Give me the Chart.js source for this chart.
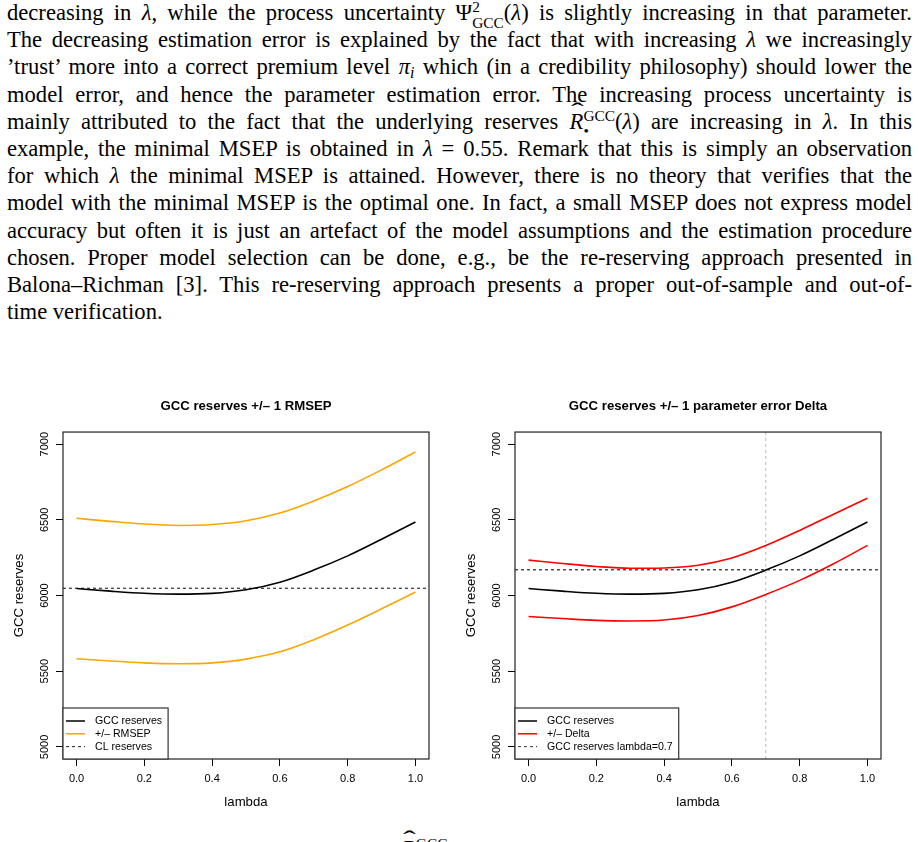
<!DOCTYPE html>
<html>
<head>
<meta charset="utf-8">
<script src="https://cdn.jsdelivr.net/npm/chart.js@4/dist/chart.umd.min.js"></script>
<style>
html,body{margin:0;padding:0;background:#fff;}
body{width:919px;height:842px;overflow:hidden;position:relative;}
.txt{position:absolute;left:7px;top:-1px;width:905px;font-family:"Liberation Serif",serif;font-size:22.6px;color:#000;}
.ln{height:27.2px;line-height:27.2px;text-align:justify;text-align-last:justify;}
.ln.last{text-align:left;text-align-last:left;}
.hat{position:relative;display:inline-block;}
.hat::after{content:"\02C6";position:absolute;left:50%;top:-0.42em;transform:translateX(-45%) scaleX(1.7);font-style:normal;}
.ss{display:inline-block;font-size:0.68em;line-height:1;vertical-align:-0.5em;text-align:left;}
.ss span{display:block;}
.sb{font-size:0.7em;vertical-align:-0.25em;line-height:0;font-style:italic;}
.chartbox{position:absolute;top:390px;width:459px;height:430px;}
.tail{position:absolute;left:402px;top:835px;font-family:"Liberation Serif",serif;font-size:22.6px;line-height:27.2px;white-space:nowrap;}
</style>
</head>
<body>
<div class="txt">
<div class="ln">decreasing in <i>λ</i>, while the process uncertainty <span class="hat">Ψ</span><span class="ss"><span>2</span><span>GCC</span></span>(<i>λ</i>) is slightly increasing in that parameter.</div>
<div class="ln">The decreasing estimation error is explained by the fact that with increasing <i>λ</i> we increasingly</div>
<div class="ln">’trust’ more into a correct premium level <i>π</i><span class="sb">i</span> which (in a credibility philosophy) should lower the</div>
<div class="ln">model error, and hence the parameter estimation error. The increasing process uncertainty is</div>
<div class="ln">mainly attributed to the fact that the underlying reserves <span class="hat"><i>R</i></span><span class="ss"><span>GCC</span><span>&#8226;</span></span>(<i>λ</i>) are increasing in <i>λ</i>. In this</div>
<div class="ln">example, the minimal MSEP is obtained in <i>λ</i> = 0.55. Remark that this is simply an observation</div>
<div class="ln">for which <i>λ</i> the minimal MSEP is attained. However, there is no theory that verifies that the</div>
<div class="ln">model with the minimal MSEP is the optimal one. In fact, a small MSEP does not express model</div>
<div class="ln">accuracy but often it is just an artefact of the model assumptions and the estimation procedure</div>
<div class="ln">chosen. Proper model selection can be done, e.g., be the re-reserving approach presented in</div>
<div class="ln">Balona–Richman [3]. This re-reserving approach presents a proper out-of-sample and out-of-</div>
<div class="ln last">time verification.</div>
</div>

<div class="chartbox" style="left:0px"><canvas id="c1" width="459" height="430"></canvas></div>
<div class="chartbox" style="left:452px"><canvas id="c2" width="459" height="430"></canvas></div>

<div class="tail"><span class="hat"><i>R</i></span><span class="ss" style="vertical-align:0.45em"><span>GCC</span></span></div>

<script>
// ---------- data ----------
const lambda        = [0.0, 0.1, 0.2, 0.3, 0.4, 0.5, 0.6, 0.7, 0.8, 0.9, 1.0];
const gccReserves   = [6046, 6029, 6015, 6009, 6014, 6038, 6088, 6168, 6262, 6372, 6486];
const rmsepUpper    = [6510, 6490, 6472, 6463, 6469, 6494, 6545, 6625, 6720, 6830, 6948];
const rmsepLower    = [5582, 5567, 5555, 5549, 5555, 5580, 5628, 5708, 5805, 5912, 6023];
const deltaUpper    = [6234, 6212, 6192, 6180, 6182, 6200, 6248, 6330, 6430, 6537, 6643];
const deltaLower    = [5861, 5848, 5836, 5832, 5838, 5868, 5925, 6007, 6100, 6210, 6331];
const clReserves    = 6048;
const gccAtLambda07 = 6170;
const lambdaMark    = 0.7;
const xTicks        = [0.0, 0.2, 0.4, 0.6, 0.8, 1.0];
const yTicks        = [5000, 5500, 6000, 6500, 7000];
const titles        = ['GCC reserves +/\u2013 1 RMSEP', 'GCC reserves +/\u2013 1 parameter error Delta'];
const legendLeft    = ['GCC reserves', '+/\u2013 RMSEP', 'CL reserves'];
const legendRight   = ['GCC reserves', '+/\u2013 Delta', 'GCC reserves lambda=0.7'];
const xTitle        = 'lambda';
const yTitle        = 'GCC reserves';

// ---------- helpers ----------
const X_MIN = -0.04, X_MAX = 1.04, Y_MIN = 4920, Y_MAX = 7080;
const pts = (xs, ys) => xs.map((x, i) => ({x, y: ys[i]}));
const hline = v => [{x: X_MIN, y: v}, {x: X_MAX, y: v}];
const vline = v => [{x: v, y: Y_MIN}, {x: v, y: Y_MAX}];
const SANS = '"Liberation Sans", Arial, sans-serif';

function curve(data, color) {
  return {data, borderColor: color, borderWidth: 1.6, pointRadius: 0, fill: false,
          showLine: true, cubicInterpolationMode: 'monotone'};
}
function straight(data, color, dash) {
  return {data, borderColor: color, borderWidth: 1.1, pointRadius: 0, fill: false,
          showLine: true, borderDash: dash, tension: 0};
}

const rDecor = {
  id: 'rDecor',
  afterDatasetsDraw(chart, args, opts) {
    const {ctx, chartArea: a} = chart;
    ctx.save();
    ctx.strokeStyle = '#222';
    ctx.lineWidth = 1.2;
    ctx.setLineDash([]);
    ctx.strokeRect(a.left, a.top, a.right - a.left, a.bottom - a.top);
    // legend (bottomleft, inside plot box)
    ctx.font = '10.6px ' + SANS;
    let maxW = 0;
    opts.items.forEach(it => { maxW = Math.max(maxW, ctx.measureText(it.text).width); });
    const bw = 32 + maxW + 6, bh = 51;
    const x0 = a.left, y0 = a.bottom - bh;
    ctx.fillStyle = '#fff';
    ctx.fillRect(x0, y0, bw, bh);
    ctx.strokeStyle = '#333';
    ctx.lineWidth = 1.2;
    ctx.strokeRect(x0, y0, bw, bh);
    ctx.textBaseline = 'middle';
    ctx.textAlign = 'left';
    opts.items.forEach((it, i) => {
      const y = a.bottom - 38 + i * 12.8;
      ctx.strokeStyle = it.color;
      ctx.lineWidth = it.dash ? 1.1 : 1.5;
      ctx.setLineDash(it.dash || []);
      ctx.beginPath(); ctx.moveTo(x0 + 3, y); ctx.lineTo(x0 + 22, y); ctx.stroke();
      ctx.setLineDash([]);
      ctx.fillStyle = '#000';
      ctx.fillText(it.text, x0 + 32, y);
    });
    ctx.restore();
  }
};

function makeChart(id, title, datasets, legendItems) {
  return new Chart(document.getElementById(id), {
    type: 'scatter',
    data: {datasets},
    plugins: [rDecor],
    options: {
      responsive: false,
      animation: false,
      devicePixelRatio: 1,
      layout: {padding: {left: 0, right: 30, top: 0, bottom: 0}},
      plugins: {
        legend: {display: false},
        tooltip: {enabled: false},
        title: {display: true, text: title, fullSize: false, color: '#000',
                font: {family: SANS, size: 13.2, weight: 'bold'},
                padding: {top: 8.6, bottom: 17.6}},
        rDecor: {items: legendItems}
      },
      scales: {
        x: {
          type: 'linear', min: X_MIN, max: X_MAX,
          afterBuildTicks: ax => { ax.ticks = xTicks.map(v => ({value: v})); },
          afterFit: ax => { ax.height = 61; },
          border: {display: false},
          grid: {display: true, drawOnChartArea: false, drawTicks: true, tickLength: 7, tickColor: '#000', tickWidth: 1},
          ticks: {color: '#000', font: {family: SANS, size: 11}, padding: 6, maxRotation: 0,
                  callback: v => Number(v).toFixed(1)},
          title: {display: true, text: xTitle, color: '#000', font: {family: SANS, size: 13.2},
                  padding: {top: 0, bottom: 10}}
        },
        y: {
          type: 'linear', min: Y_MIN, max: Y_MAX,
          afterBuildTicks: ax => { ax.ticks = yTicks.map(v => ({value: v})); },
          afterFit: ax => { ax.width = 63; },
          border: {display: false},
          grid: {display: true, drawOnChartArea: false, drawTicks: true, tickLength: 7, tickColor: '#000', tickWidth: 1},
          ticks: {color: '#000', font: {family: SANS, size: 11}, padding: -1,
                  minRotation: 90, maxRotation: 90, crossAlign: 'center',
                  callback: v => String(v)},
          title: {display: true, text: yTitle, color: '#000', font: {family: SANS, size: 13.2},
                  padding: {top: 11, bottom: 0}}
        }
      }
    }
  });
}

makeChart('c1', titles[0], [
  curve(pts(lambda, gccReserves), '#000000'),
  curve(pts(lambda, rmsepUpper), '#FFA500'),
  curve(pts(lambda, rmsepLower), '#FFA500'),
  straight(hline(clReserves), '#222', [3, 3])
], [
  {text: legendLeft[0], color: '#000'},
  {text: legendLeft[1], color: '#FFA500'},
  {text: legendLeft[2], color: '#333', dash: [3, 3]}
]);

makeChart('c2', titles[1], [
  curve(pts(lambda, gccReserves), '#000000'),
  curve(pts(lambda, deltaUpper), '#FF0000'),
  curve(pts(lambda, deltaLower), '#FF0000'),
  straight(hline(gccAtLambda07), '#111', [3, 3]),
  straight(vline(lambdaMark), '#BEBEBE', [3, 3])
], [
  {text: legendRight[0], color: '#000'},
  {text: legendRight[1], color: '#FF0000'},
  {text: legendRight[2], color: '#444', dash: [3, 3]}
]);
</script>
</body>
</html>
